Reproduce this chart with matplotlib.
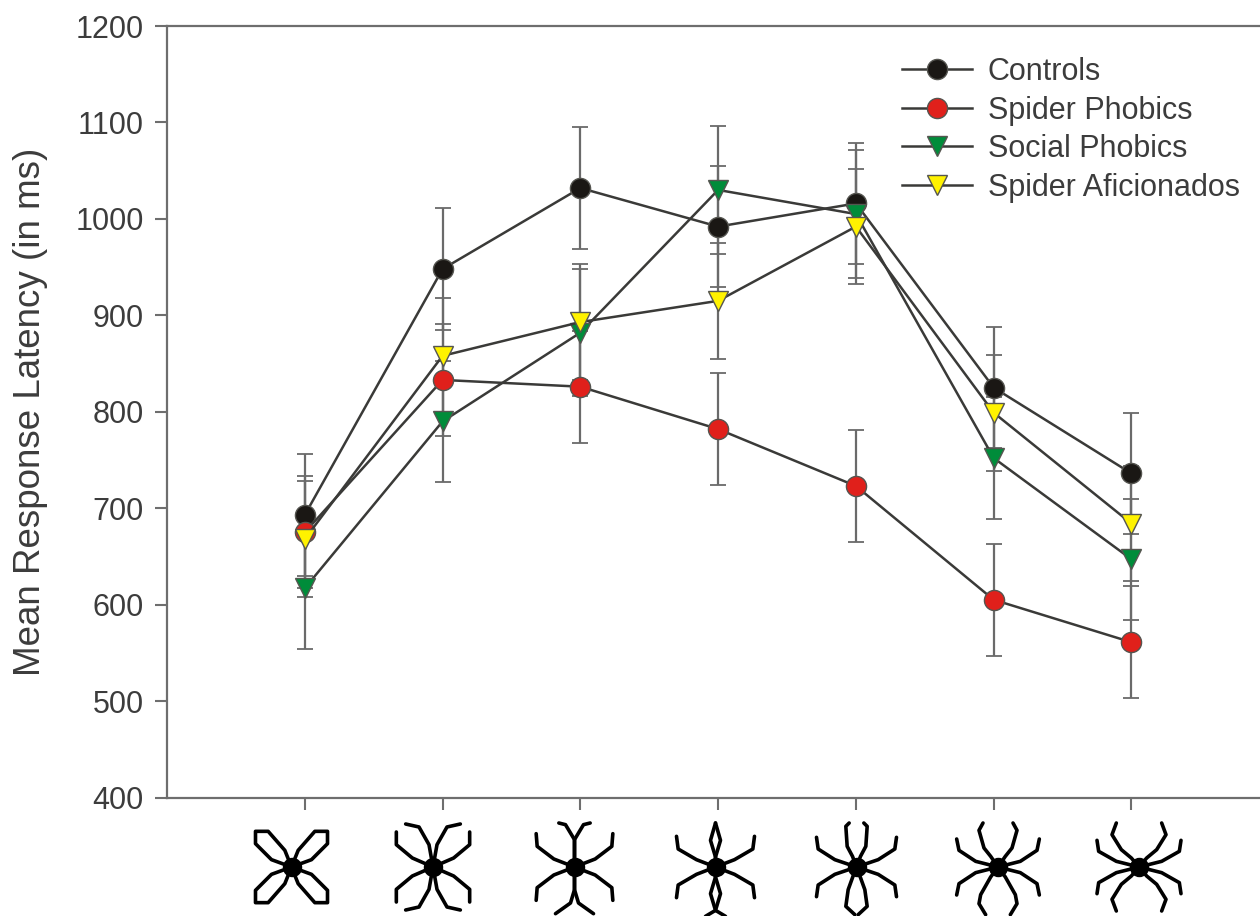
import matplotlib
matplotlib.use("Agg")
import matplotlib.pyplot as plt
import numpy as np

plt.rcParams['font.family'] = ['Liberation Sans', 'DejaVu Sans']

positions = [1, 2, 3, 4, 5, 6, 7]
controls = [693, 948, 1032, 992, 1016, 825, 736]
controls_err = [63, 63, 63, 63, 63, 63, 63]
spider_phobics = [675, 833, 826, 782, 723, 605, 561]
spider_phobics_err = [58, 58, 58, 58, 58, 58, 58]
social_phobics = [617, 790, 882, 1030, 1005, 752, 647]
social_phobics_err = [63, 63, 66, 66, 66, 63, 63]
aficionados = [668, 858, 893, 915, 992, 799, 684]
aficionados_err = [60, 60, 60, 60, 60, 60, 60]
y_ticks = [400, 500, 600, 700, 800, 900, 1000, 1100, 1200]

TEXT = '#3c3c3c'
AXIS = '#6e6e6e'
LINE = '#3a3a38'
W, H = 1260, 916

fig = plt.figure(figsize=(W / 100, H / 100), dpi=100)
ax = fig.add_axes([167 / W, 1 - 797.5 / H, (W - 167 + 1) / W, (797.5 - 26) / H])
ax.set_xlim(0, 7.94)
ax.set_ylim(400, 1200)

series = [
    ('Controls', controls, controls_err, 'o', '#1a1714', 14.5),
    ('Spider Phobics', spider_phobics, spider_phobics_err, 'o', '#e0201b', 14.5),
    ('Social Phobics', social_phobics, social_phobics_err, 'v', '#008c3a', 14.5),
    ('Spider Aficionados', aficionados, aficionados_err, 'v', '#fff200', 14.5),
]
for i, (name, vals, errs, mk, col, ms) in enumerate(series):
    ax.errorbar(positions, vals, yerr=errs, fmt='none', ecolor='#6a6a6a',
                elinewidth=1.6, capsize=5.8, capthick=1.3, zorder=2 + i * 0.1)
for i, (name, vals, errs, mk, col, ms) in enumerate(series):
    ax.plot(positions, vals, color=LINE, lw=1.8, marker=mk, ms=ms, mfc=col,
            mec='#555550', mew=1.0, label=name, zorder=3 + i * 0.1)

ax.spines['right'].set_visible(False)
for s in ('left', 'top', 'bottom'):
    ax.spines[s].set_color(AXIS)
    ax.spines[s].set_linewidth(1.6)
ax.set_xticks(positions)
ax.set_xticklabels([])
ax.set_yticks(y_ticks)
ax.tick_params(axis='both', color=AXIS, width=1.5, length=8.8, labelsize=22,
               labelcolor=TEXT, pad=8)
fig.text(31 / W, 1 - 412 / H, 'Mean Response Latency (in ms)', rotation=90,
         ha='center', va='center', fontsize=26.5, color=TEXT)

leg = ax.legend(loc='upper left', bbox_to_anchor=(902 / W, 1 - 57 / H),
                bbox_transform=fig.transFigure, frameon=False, fontsize=22,
                handlelength=2.29, handletextpad=0.52, labelspacing=0.28,
                borderpad=0, borderaxespad=0, labelcolor=TEXT)

# Stimulus icons drawn as decoration, in pixel space (zoom units: 3 per px)
over = fig.add_axes([0, 0, 1, 1])
over.set_xlim(0, W)
over.set_ylim(H, 0)
over.axis('off')
over.patch.set_alpha(0)

centres = [291.5, 433, 574.5, 715.5, 856.5, 998, 1139]
outer = [
    None,
    [(0, 0), (62, -27), (110, -67), (110, -105)],
    [(0, 0), (62, -24), (112, -62), (115, -100)],
    [(0, 0), (57, -22), (112, -54), (117, -92)],
    [(0, 0), (65, -22), (115, -54), (120, -89)],
    [(0, 0), (67, -17), (117, -50), (124, -84)],
    [(0, 0), (68, -17), (121, -47), (126, -80)],
]
upper = [
    [(0, 0), (20, -50), (70, -107), (108, -107), (108, -70), (60, -22), (0, 0)],
    [(0, 0), (12, -67), (42, -120), (82, -129)],
    [(0, 0), (0, -82), (27, -127), (47, -132)],
    [(0, 0), (0, -30), (15, -80), (0, -132)],
    [(0, 0), (12, -32), (28, -62), (32, -122), (22, -132)],
    [(0, 0), (22, -32), (42, -57), (57, -110), (45, -132)],
    [(0, 0), (23, -27), (53, -52), (81, -97), (68, -132)],
]
lower = [
    None,
    None,
    [(0, 0), (0, 68), (12, 108), (57, 140)],
    [(0, 0), (0, 30), (15, 80), (0, 130), (30, 148)],
    [(0, 0), (12, 32), (25, 68), (32, 118), (5, 143)],
    [(0, 0), (22, 30), (52, 83), (57, 110), (37, 143)],
    [(0, 0), (23, 27), (53, 52), (81, 97), (68, 132)],
]
cy = 867
for k, cx in enumerate(centres):
    for sx in (-1, 1):
        legs = []
        if outer[k] is not None:
            legs.append(outer[k])
            legs.append([(x, -y) for x, y in outer[k]])
        legs.append(upper[k])
        legs.append(lower[k] if lower[k] is not None else [(x, -y) for x, y in upper[k]])
        for leg_pts in legs:
            a = np.array(leg_pts, float) / 3
            over.plot(cx + sx * a[:, 0], cy + a[:, 1], color='black', lw=2.6,
                      solid_joinstyle='round', solid_capstyle='round', clip_on=True)
    over.plot([cx], [cy], 'o', color='black', ms=14, mew=0)

fig.savefig('out.png', dpi=100)
